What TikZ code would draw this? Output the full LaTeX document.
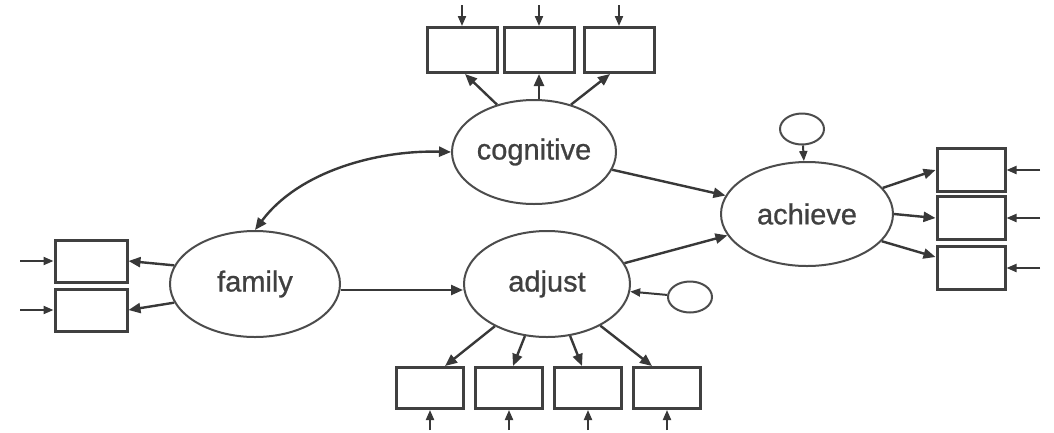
\documentclass[tikz,border=0pt]{standalone}
\usepackage{fontspec}
\setmainfont{Liberation Sans}[BoldFont=Liberation Sans,BoldFeatures={FakeBold=0.8}]
\usetikzlibrary{arrows.meta,shapes.geometric,calc}
\tikzset{
  latent/.style={ellipse,draw=black!70,line width=2pt,inner sep=0pt,font=\fontsize{29}{31}\selectfont\bfseries,text=black!75},
  resid/.style={ellipse,draw=black!70,line width=2pt,inner sep=0pt,minimum width=44pt,minimum height=31pt},
  obs/.style={rectangle,draw=black!75,line width=3pt,inner sep=0pt,fill=white},
  arr/.style={line width=2.4pt,draw=black!78,-{Triangle[length=12pt,width=10pt]}},
  errarr/.style={line width=2pt,draw=black!78,-{Triangle[length=10pt,width=8pt]}},
  dbl/.style={line width=2.4pt,draw=black!78,{Triangle[length=12pt,width=10pt]}-{Triangle[length=12pt,width=10pt]}}
}
\begin{document}
\begin{tikzpicture}[x=1pt,y=-1pt]
\useasboundingbox[fill=white] (0,0) rectangle (1054,432);
% latent variables
\node[latent,minimum width=164pt,minimum height=104pt] (cog) at (534,152) {cognitive};
\node[latent,minimum width=170pt,minimum height=106pt] (fam) at (255,284) {family};
\node[latent,minimum width=166pt,minimum height=106pt] (adj) at (547,284) {adjust};
\node[latent,minimum width=172pt,minimum height=104pt] (ach) at (807,214) {achieve};
% residuals
\node[resid] (r1) at (802,129) {};
\node[resid] (r2) at (690,297) {};
% cognitive indicators
\foreach \i/\x in {1/462,2/539,3/619}{
  \node[obs,minimum width=70pt,minimum height=45pt] (cb\i) at (\x,50) {};
  \coordinate (ce\i) at (\x,5);
}
% adjust indicators
\foreach \i/\x in {1/430,2/509,3/588,4/667}{
  \node[obs,minimum width=67pt,minimum height=41pt] (ab\i) at (\x,388) {};
  \coordinate (ae\i) at (\x,430);
}
% family indicators
\foreach \i/\y in {1/261,2/310}{
  \node[obs,minimum width=72pt,minimum height=42pt] (fb\i) at (91,\y) {};
  \coordinate (fe\i) at (20,\y);
}
% achieve indicators
\foreach \i/\y in {1/170,2/218,3/268}{
  \node[obs,minimum width=68pt,minimum height=43pt] (hb\i) at (971,\y) {};
  \coordinate (he\i) at (1040,\y);
}
% error arrows
\foreach \i in {1,2,3}{\draw[errarr] (ce\i) -- (cb\i.north);}
\foreach \i in {1,2,3,4}{\draw[errarr] (ae\i) -- (ab\i.south);}
\foreach \i in {1,2}{\draw[errarr] (fe\i) -- (fb\i.west);}
\foreach \i in {1,2,3}{\draw[errarr] (he\i) -- (hb\i.east);}
% loadings
\draw[arr] (cog.128) -- ([xshift=3pt]cb1.south);
\draw[arr] (cb2.south |- cog.north) -- (cb2.south);
\draw[arr] (cog.52) -- ([xshift=-9pt]cb3.south);
\draw[arr] (adj.219) -- ([xshift=15pt]ab1.north);
\draw[arr] (adj.247) -- ([xshift=4pt]ab2.north);
\draw[arr] (adj.294) -- ([xshift=-6pt]ab3.north);
\draw[arr] (adj.322) -- ([xshift=-15pt]ab4.north);
\draw[arr] (fam.167) -- (fb1.east);
\draw[arr] (fam.193) -- (fb2.east);
\draw[arr] (ach.19) -- (hb1.west);
\draw[arr] (ach.east) -- (hb2.west);
\draw[arr] (ach.-20) -- ([yshift=11pt]hb3.west);
% residual arrows
\draw[errarr] (r1) -- (ach);
\draw[errarr] (r2) -- (adj);
% structural paths
\draw[arr] (cog) -- (ach);
\draw[arr] (adj) -- (ach);
\draw[arr] ([yshift=-6pt]fam.east) -- ([yshift=-6pt]adj.west);
\draw[dbl] (fam.north) .. controls (300,170) and (380,150) .. (cog.west);
\end{tikzpicture}
\end{document}
